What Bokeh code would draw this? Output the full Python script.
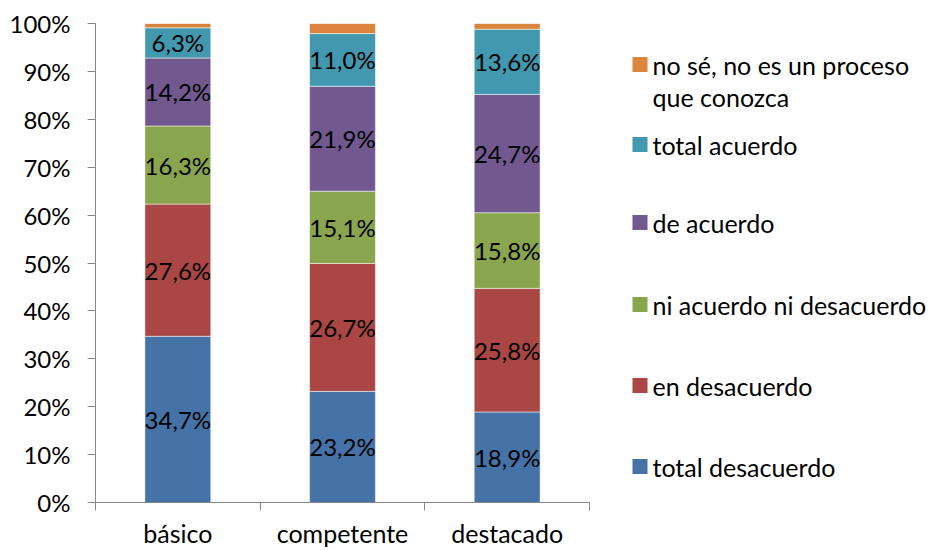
import textwrap
from bokeh.plotting import figure
from bokeh.models import ColumnDataSource, Range1d, FixedTicker, Label, BoxAnnotation
from bokeh.embed import file_html
from bokeh.resources import INLINE
from bokeh.core.properties import value

# ---------------- data ----------------
categories = ["básico", "competente", "destacado"]
series_names = [
    "total desacuerdo",
    "en desacuerdo",
    "ni acuerdo ni desacuerdo",
    "de acuerdo",
    "total acuerdo",
    "no sé, no es un proceso que conozca",
]
total_desacuerdo = [34.7, 23.2, 18.9]
en_desacuerdo = [27.6, 26.7, 25.8]
ni_acuerdo_ni_desacuerdo = [16.3, 15.1, 15.8]
de_acuerdo = [14.2, 21.9, 24.7]
total_acuerdo = [6.3, 11.0, 13.6]
no_se = [0.9, 2.1, 1.2]
series_values = [total_desacuerdo, en_desacuerdo, ni_acuerdo_ni_desacuerdo,
                 de_acuerdo, total_acuerdo, no_se]
labelled_series = 5  # the last series carries no data labels
y_ticks = [0, 10, 20, 30, 40, 50, 60, 70, 80, 90, 100]
y_tick_labels = ["0%", "10%", "20%", "30%", "40%", "50%", "60%", "70%", "80%", "90%", "100%"]

# ---------------- style / layout ----------------
colors = ["#4572A7", "#AA4643", "#89A54E", "#71588F", "#4198AF", "#DB843D"]
FONT = "Lato"
FS = "24px"
FS_BIG = "25px"
AXIS_COLOR = "#868686"
W, H = 929, 550
LEFT, TOP, BOTTOM = 95, 23, 47
AXIS_PX = 494          # pixel length of the category axis
FRAME_W = W - LEFT     # frame runs to the right edge so the legend can live in it

n = len(categories)
p = figure(width=W, height=H, output_backend="svg", toolbar_location=None,
           x_range=Range1d(0, n * FRAME_W / AXIS_PX), y_range=Range1d(0, 100),
           min_border_left=LEFT, min_border_right=0, min_border_top=TOP,
           min_border_bottom=BOTTOM)
p.outline_line_color = None
p.grid.visible = False
p.background_fill_color = "white"

xs = [i + 0.5 for i in range(n)]
data = {"x": xs}
keys = []
for i, vals in enumerate(series_values):
    k = f"s{i}"
    data[k] = vals
    keys.append(k)
src = ColumnDataSource(data)
p.vbar_stack(keys, x="x", width=0.4, fill_color=colors, line_color="white",
             line_alpha=0.5, line_width=1, source=src)

# data labels
lx, ly, lt = [], [], []
bottom = [0.0] * n
for si, vals in enumerate(series_values):
    for ci, v in enumerate(vals):
        if si < labelled_series:
            lx.append(xs[ci])
            ly.append(bottom[ci] + v / 2)
            lt.append(f"{v:.1f}".replace(".", ",") + "%")
        bottom[ci] += v
p.text(x=lx, y=ly, text=lt, text_align="center", text_baseline="middle",
       text_font=value(FONT), text_font_size=FS, text_color="black")

# y axis
p.yaxis.ticker = FixedTicker(ticks=y_ticks)
p.yaxis.major_label_overrides = {t: l for t, l in zip(y_ticks, y_tick_labels)}
p.yaxis.axis_line_color = AXIS_COLOR
p.yaxis.major_tick_line_color = AXIS_COLOR
p.yaxis.major_tick_in = 0
p.yaxis.major_tick_out = 8
p.yaxis.minor_tick_line_color = None
p.yaxis.major_label_standoff = 17
p.yaxis.major_label_text_font = FONT
p.yaxis.major_label_text_font_size = FS
p.yaxis.major_label_text_color = "black"

# x axis: labels at category centres, tick marks between categories
p.xaxis.bounds = (0, n)
p.xaxis.ticker = FixedTicker(ticks=xs, minor_ticks=list(range(n + 1)))
p.xaxis.major_label_overrides = {x: c for x, c in zip(xs, categories)}
p.xaxis.axis_line_color = AXIS_COLOR
p.xaxis.major_tick_line_color = None
p.xaxis.major_tick_out = 0
p.xaxis.major_tick_in = 0
p.xaxis.minor_tick_line_color = AXIS_COLOR
p.xaxis.minor_tick_out = 8
p.xaxis.minor_tick_in = 0
p.xaxis.major_label_standoff = 7
p.xaxis.major_label_text_font = FONT
p.xaxis.major_label_text_font_size = FS_BIG
p.xaxis.major_label_text_color = "black"

# legend (top to bottom: reversed series order); screen units from frame bottom-left
legend_centers = [438, 358, 280, 198, 117, 36]
line_gap = 32
for name, col, cy in zip(series_names[::-1], colors[::-1], legend_centers):
    p.add_layout(BoxAnnotation(left=537, right=552, top=cy + 7.5, bottom=cy - 7.5,
                               left_units="screen", right_units="screen",
                               top_units="screen", bottom_units="screen",
                               fill_color=col, fill_alpha=1, line_color=None))
    for li, line in enumerate(textwrap.wrap(name, 24)):
        p.add_layout(Label(x=557, y=cy - li * line_gap, x_units="screen", y_units="screen",
                           text=line, text_align="left", text_baseline="middle",
                           text_font=FONT, text_font_size=FS_BIG, text_color="black"))

open("out.html", "w").write(file_html(p, INLINE))
